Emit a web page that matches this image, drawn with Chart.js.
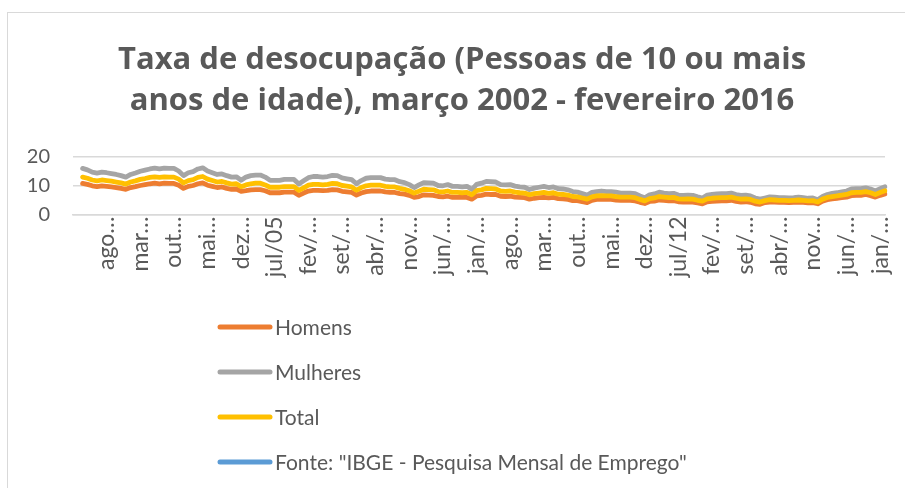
<!DOCTYPE html>
<html>
<head>
<meta charset="utf-8">
<script src="https://cdn.jsdelivr.net/npm/chart.js@4.4.1/dist/chart.umd.min.js"></script>
<style>
  html, body { margin: 0; padding: 0; background: #ffffff; overflow: hidden; }
  #wrap { position: relative; width: 905px; height: 488px; }
  #frame { position: absolute; left: 7px; top: 12px; width: 910px; height: 490px; border: 1.5px solid #d9d9d9; box-sizing: border-box; }
  canvas { position: absolute; left: 0; top: 0; }
</style>
</head>
<body>
<div id="wrap">
  <div id="frame"></div>
  <canvas id="c" width="905" height="488"></canvas>
</div>
<script>
// ---- DATA ----
const monthNames = ["jan","fev","mar","abr","mai","jun","jul","ago","set","out","nov","dez"];
const firstYear = 2002, lastYear = 2016, lastMonthIndex = 1; // categories jan/02 .. fev/16
const categories = [];
for (let y = firstYear; y <= lastYear; y++) {
  for (let m = 0; m < 12; m++) {
    if (y === lastYear && m > lastMonthIndex) break;
    categories.push(monthNames[m] + "/" + String(y).slice(2));
  }
}

// Axis tick labels as displayed (every 7th category, starting at ago/02)
const tickLabels = ["ago…","mar…","out…","mai…","dez…","jul/05","fev/…","set/…","abr/…","nov…","jun/…","jan/…",
                    "ago…","mar…","out…","mai…","dez…","jul/12","fev/…","set/…","abr/…","nov…","jun/…","jan/…"];
const tickStart = 7, tickStep = 7;
const yTicks = [0, 10, 20];

// Series (jan/02 and fev/02 have no data)
const homens = [null, null,
  10.7,10.4,9.9,9.6,9.9,9.7,9.5,9.3,9.0,8.7,
  9.3,9.6,10.0,10.3,10.6,10.8,10.6,10.8,10.7,10.7,10.1,9.0,
  9.7,10.0,10.6,10.9,10.1,9.7,9.3,9.5,9.0,8.7,8.8,8.0,
  8.2,8.5,8.6,8.6,8.2,7.5,7.5,7.5,7.7,7.7,7.7,6.6,
  7.4,8.1,8.3,8.3,8.2,8.3,8.6,8.5,8.0,7.8,7.6,6.7,
  7.4,7.9,8.1,8.1,8.1,7.8,7.6,7.6,7.2,7.0,6.6,5.9,
  6.2,6.8,6.7,6.6,6.2,6.1,6.3,5.9,5.9,5.9,5.9,5.3,
  6.4,6.6,7.0,6.9,6.9,6.3,6.2,6.3,6.0,5.9,5.8,5.3,
  5.6,5.8,5.9,5.7,5.9,5.5,5.4,5.2,4.8,4.8,4.4,4.1,
  4.9,5.2,5.3,5.2,5.2,5.0,4.9,4.9,4.9,4.7,4.2,3.8,
  4.5,4.6,5.0,4.9,4.7,4.8,4.4,4.3,4.4,4.3,4.0,3.7,
  4.4,4.5,4.6,4.7,4.7,4.9,4.5,4.3,4.4,4.2,3.7,3.5,
  4.1,4.3,4.3,4.2,4.2,4.1,4.2,4.3,4.2,4.0,4.1,3.7,
  4.6,5.1,5.4,5.6,5.8,6.0,6.5,6.6,6.6,6.9,6.5,6.0,
  6.6,7.1];
const mulheres = [null, null,
  15.9,15.4,14.6,14.3,14.6,14.4,14.1,13.8,13.4,12.9,
  13.8,14.3,14.9,15.3,15.7,16.0,15.7,16.0,15.9,15.9,15.0,13.4,
  14.4,14.8,15.7,16.1,15.0,14.4,13.8,14.0,13.4,12.9,13.0,11.8,
  12.9,13.4,13.6,13.6,12.9,11.8,11.8,11.8,12.1,12.1,12.1,10.5,
  11.6,12.7,13.1,13.1,12.9,13.1,13.5,13.4,12.6,12.3,12.0,10.6,
  11.7,12.5,12.7,12.7,12.7,12.2,12.0,12.0,11.3,11.0,10.3,9.3,
  10.2,11.0,10.9,10.8,10.0,9.9,10.3,9.7,9.7,9.5,9.7,8.6,
  10.4,10.8,11.4,11.3,11.2,10.3,10.2,10.3,9.8,9.5,9.4,8.6,
  9.1,9.4,9.7,9.3,9.5,8.9,8.8,8.5,7.9,7.7,7.2,6.7,
  7.6,7.9,8.1,7.9,7.9,7.7,7.4,7.4,7.4,7.2,6.4,5.8,
  6.8,7.1,7.7,7.4,7.2,7.3,6.7,6.6,6.7,6.6,6.1,5.7,
  6.7,6.9,7.1,7.2,7.2,7.4,6.9,6.6,6.7,6.4,5.7,5.3,
  5.7,6.1,6.0,5.8,5.8,5.7,5.8,6.0,5.8,5.6,5.7,5.1,
  6.2,6.9,7.3,7.5,7.8,8.1,8.8,8.9,8.9,9.2,8.8,8.1,
  8.9,9.6];
const total = [null, null,
  12.9,12.5,11.9,11.6,11.9,11.7,11.5,11.2,10.9,10.5,
  11.2,11.6,12.1,12.4,12.8,13.0,12.8,13.0,12.9,12.9,12.2,10.9,
  11.7,12.0,12.8,13.1,12.2,11.7,11.2,11.4,10.9,10.5,10.6,9.6,
  10.2,10.6,10.8,10.8,10.2,9.4,9.4,9.4,9.6,9.6,9.6,8.3,
  9.2,10.1,10.4,10.4,10.2,10.4,10.7,10.6,10.0,9.8,9.5,8.4,
  9.3,9.9,10.1,10.1,10.1,9.7,9.5,9.5,9.0,8.7,8.2,7.4,
  8.0,8.7,8.6,8.5,7.9,7.8,8.1,7.6,7.6,7.5,7.6,6.8,
  8.2,8.5,9.0,8.9,8.8,8.1,8.0,8.1,7.7,7.5,7.4,6.8,
  7.2,7.4,7.6,7.3,7.5,7.0,6.9,6.7,6.2,6.1,5.7,5.3,
  6.1,6.4,6.5,6.4,6.4,6.2,6.0,6.0,6.0,5.8,5.2,4.7,
  5.5,5.7,6.2,6.0,5.8,5.9,5.4,5.3,5.4,5.3,4.9,4.6,
  5.4,5.6,5.7,5.8,5.8,6.0,5.6,5.3,5.4,5.2,4.6,4.3,
  4.8,5.1,5.0,4.9,4.9,4.8,4.9,5.0,4.9,4.7,4.8,4.3,
  5.3,5.9,6.2,6.4,6.7,6.9,7.5,7.6,7.6,7.9,7.5,6.9,
  7.6,8.2];
const fonte = []; // legend-only series

const seriesNames = ["Homens", "Mulheres", "Total", "Fonte: \"IBGE - Pesquisa Mensal de Emprego\""];
const titleLines = ["Taxa de desocupação (Pessoas de 10 ou mais", "anos de idade), março 2002 - fevereiro 2016"];

// ---- STYLE ----
const TEXT = "#595959";
const FONT = "Lato, 'Open Sans', 'DejaVu Sans', sans-serif";
const TITLE_FONT = "'Open Sans', Lato, 'DejaVu Sans', sans-serif";
const colors = ["#ED7D31", "#A5A5A5", "#FFC000", "#5B9BD5"];

const titlePlugin = {
  id: "centeredTitle",
  afterDraw(chart) {
    const ctx = chart.ctx;
    ctx.save();
    ctx.font = "bold 31px " + TITLE_FONT;
    ctx.fillStyle = TEXT;
    ctx.textAlign = "center";
    ctx.textBaseline = "alphabetic";
    titleLines.forEach((t, i) => ctx.fillText(t, 462, 68.5 + i * 41.7));
    ctx.restore();
  }
};

const legendPlugin = {
  id: "stackedLegend",
  afterDraw(chart) {
    const ctx = chart.ctx;
    ctx.save();
    ctx.font = "21px " + FONT;
    ctx.textBaseline = "middle";
    ctx.textAlign = "left";
    chart.data.datasets.forEach((ds, i) => {
      const y = 327 + i * 45;
      ctx.strokeStyle = ds.borderColor;
      ctx.lineWidth = 5;
      ctx.lineCap = "round";
      ctx.beginPath();
      ctx.moveTo(220, y);
      ctx.lineTo(270, y);
      ctx.stroke();
      ctx.fillStyle = TEXT;
      ctx.fillText(ds.label, 275, y + 1);
    });
    ctx.restore();
  }
};

const mk = (label, data, color, order) => ({
  label, data, borderColor: color, backgroundColor: color,
  borderWidth: 4.8, pointRadius: 0, pointHoverRadius: 0, tension: 0,
  borderJoinStyle: "round", borderCapStyle: "round", fill: false, spanGaps: false, order
});

new Chart(document.getElementById("c"), {
  type: "line",
  data: {
    labels: categories,
    datasets: [
      mk(seriesNames[0], homens, colors[0], 3),
      mk(seriesNames[1], mulheres, colors[1], 2),
      mk(seriesNames[2], total, colors[2], 1),
      mk(seriesNames[3], fonte, colors[3], 0)
    ]
  },
  options: {
    responsive: false,
    animation: false,
    events: [],
    layout: { padding: { left: 5, right: 20, top: 156.5, bottom: 193.5 } },
    plugins: {
      legend: { display: false },
      tooltip: { enabled: false },
      title: { display: false }
    },
    scales: {
      x: {
        type: "category",
        offset: false,
        grid: { display: false, drawTicks: false },
        border: { display: true, color: "#d9d9d9", width: 1.5 },
        afterFit: (s) => { s.height = 80; s.paddingLeft = 0; s.paddingRight = 0; },
        ticks: {
          autoSkip: false,
          minRotation: 90,
          maxRotation: 90,
          padding: 2,
          color: TEXT,
          font: { family: FONT, size: 23 },
          callback: (v, i) => {
            const k = i - tickStart;
            return (k >= 0 && k % tickStep === 0) ? (tickLabels[k / tickStep] || "") : "";
          }
        }
      },
      y: {
        min: yTicks[0],
        max: yTicks[yTicks.length - 1],
        afterFit: (s) => { s.width = 68; s.paddingTop = 0; s.paddingBottom = 0; },
        afterBuildTicks: (s) => { s.ticks = yTicks.map(v => ({ value: v })); },
        grid: { color: "#d9d9d9", lineWidth: 1.5, drawTicks: false },
        border: { display: false },
        ticks: { padding: 23, color: TEXT, font: { family: FONT, size: 20 } }
      }
    }
  },
  plugins: [titlePlugin, legendPlugin]
});
</script>
</body>
</html>
